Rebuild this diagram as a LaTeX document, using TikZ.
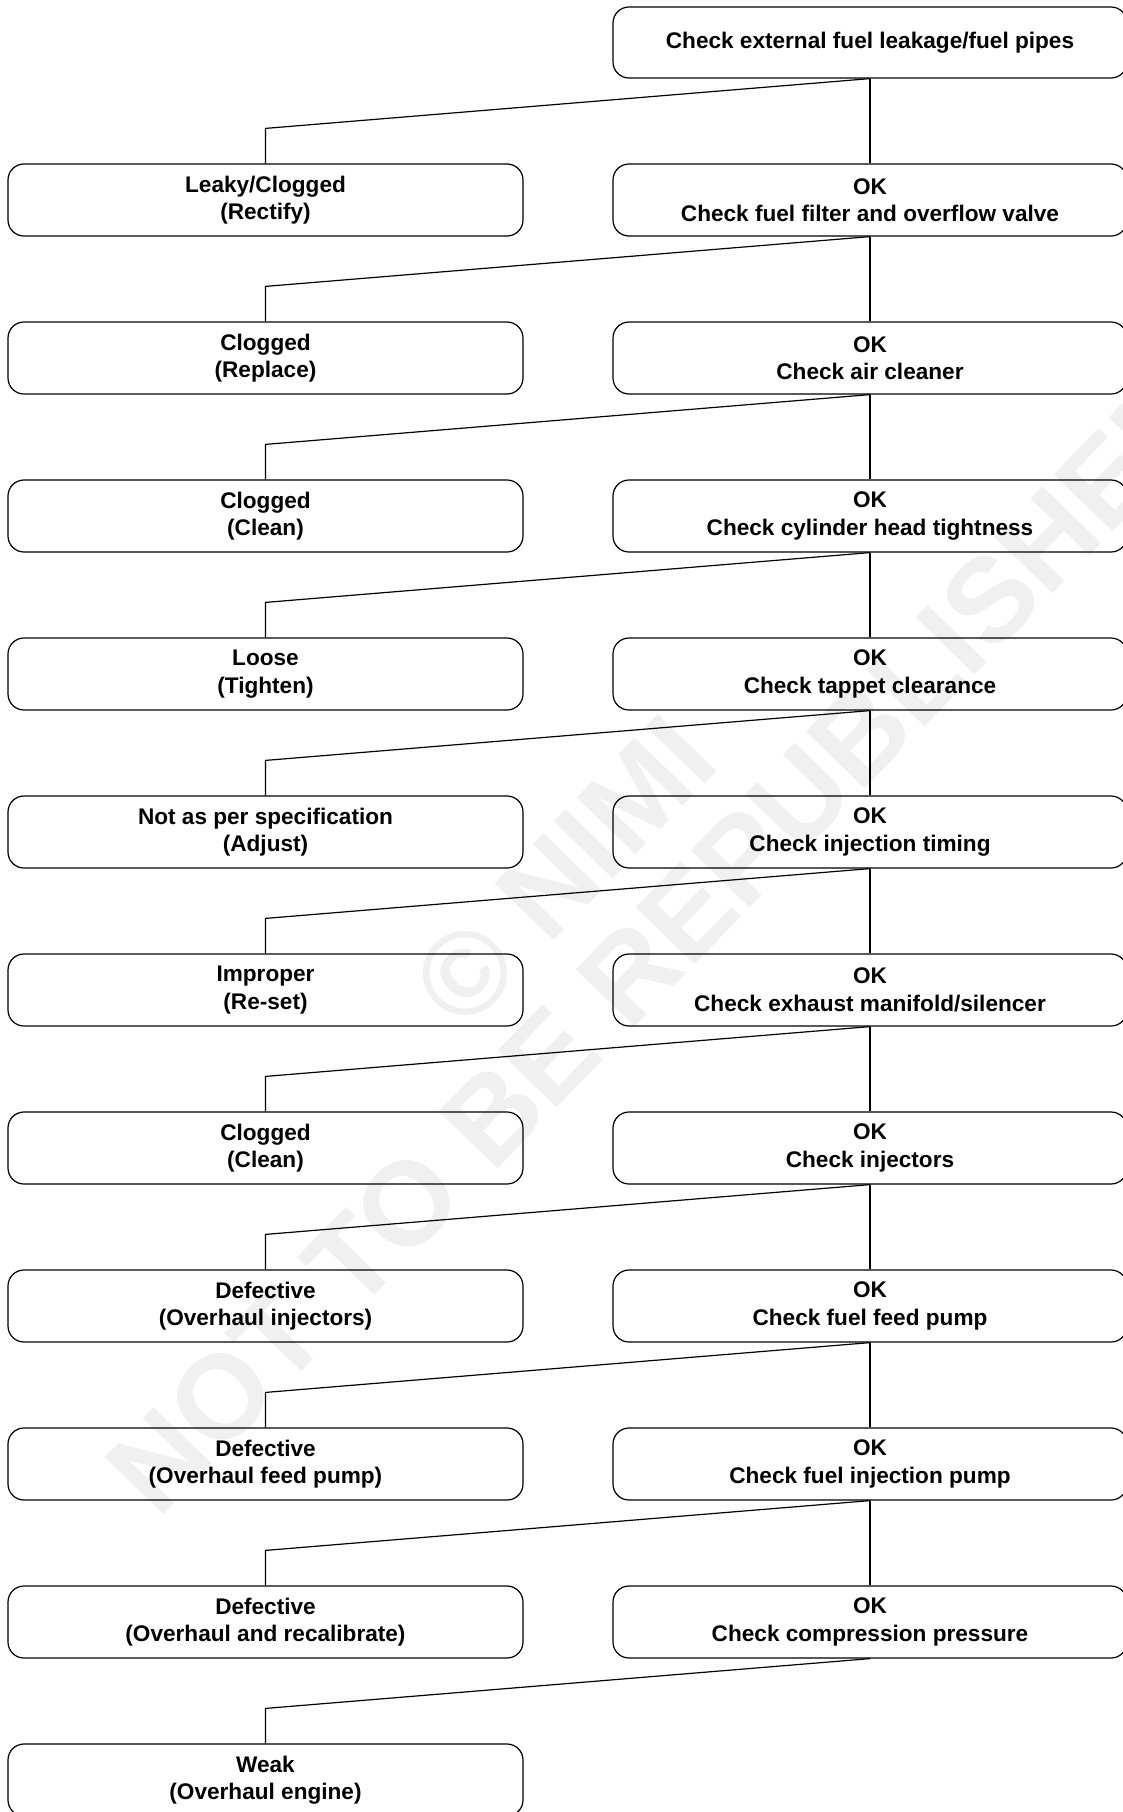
\documentclass[tikz,border=0pt]{standalone}
\usepackage{fontspec}
\setmainfont{Liberation Sans}
\begin{document}
\begin{tikzpicture}[x=1pt,y=-1pt,
  box/.style={draw=black, line width=1.2pt, rounded corners=16pt, align=center,
    inner sep=0pt, font=\bfseries\fontsize{22.6}{27.5}\selectfont},
  fixbox/.style={box, minimum width=515pt, minimum height=72pt},
  okbox/.style={box, minimum width=514pt, minimum height=72pt},
  link/.style={draw=black, line width=1.2pt},
  wm/.style={text=black!6, font=\bfseries\fontsize{119}{119}\selectfont,
    rotate=46, inner sep=0pt}]
\useasboundingbox (0,0) rectangle (1123,1812);

% faint diagonal watermark behind the chart
\begin{scope}
  \clip (0,0) rectangle (1123,1812);
  \node[wm] (markA) at (564,871) {© NIMI};
  \node[wm] (markB) at (661,941) {NOT TO BE REPUBLISHED};
\end{scope}

% right column: checks in sequence
\node[okbox, minimum height=71pt] (ok0) at (870,42.5) {Check external fuel leakage/fuel pipes};
\node[okbox] (ok1)  at (870,200)  {OK\\Check fuel filter and overflow valve};
\node[okbox] (ok2)  at (870,358)  {OK\\Check air cleaner};
\node[okbox] (ok3)  at (870,516)  {OK\\Check cylinder head tightness};
\node[okbox] (ok4)  at (870,674)  {OK\\Check tappet clearance};
\node[okbox] (ok5)  at (870,832)  {OK\\Check injection timing};
\node[okbox] (ok6)  at (870,990)  {OK\\Check exhaust manifold/silencer};
\node[okbox] (ok7)  at (870,1148) {OK\\Check injectors};
\node[okbox] (ok8)  at (870,1306) {OK\\Check fuel feed pump};
\node[okbox] (ok9)  at (870,1464) {OK\\Check fuel injection pump};
\node[okbox] (ok10) at (870,1622) {OK\\Check compression pressure};

% left column: faults and remedies
\node[fixbox] (fx1)  at (265.5,200)  {Leaky/Clogged\\(Rectify)};
\node[fixbox] (fx2)  at (265.5,358)  {Clogged\\(Replace)};
\node[fixbox] (fx3)  at (265.5,516)  {Clogged\\(Clean)};
\node[fixbox] (fx4)  at (265.5,674)  {Loose\\(Tighten)};
\node[fixbox] (fx5)  at (265.5,832)  {Not as per specification\\(Adjust)};
\node[fixbox] (fx6)  at (265.5,990)  {Improper\\(Re-set)};
\node[fixbox] (fx7)  at (265.5,1148) {Clogged\\(Clean)};
\node[fixbox] (fx8)  at (265.5,1306) {Defective\\(Overhaul injectors)};
\node[fixbox] (fx9)  at (265.5,1464) {Defective\\(Overhaul feed pump)};
\node[fixbox] (fx10) at (265.5,1622) {Defective\\(Overhaul and recalibrate)};
\node[fixbox] (fx11) at (265.5,1780) {Weak\\(Overhaul engine)};

% connectors: straight down for OK, slanted elbow to the fault box
\foreach \k [count=\p from 0] in {1,...,10} {
  \draw[link] (ok\p.south) -- (ok\k.north);
  \draw[link] (ok\p.south) -- ([yshift=35pt]fx\k.north) -- (fx\k.north);
}
\draw[link] (ok10.south) -- ([yshift=35pt]fx11.north) -- (fx11.north);
\end{tikzpicture}
\end{document}
